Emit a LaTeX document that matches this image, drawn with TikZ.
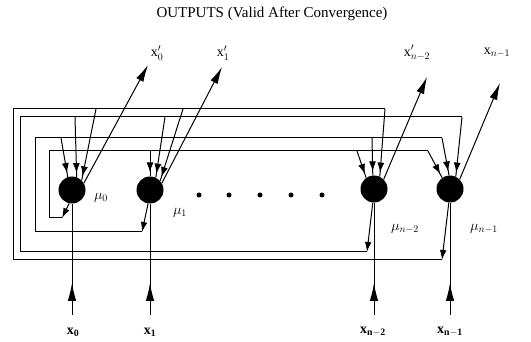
\documentclass[tikz,border=0pt]{standalone}
\usepackage{fontspec}
\setmainfont{Liberation Serif}
\usetikzlibrary{arrows.meta,decorations.markings}
\tikzset{
  neuron/.style={circle,fill=black,minimum size=27pt,inner sep=0pt},
  dotn/.style={circle,fill=black,minimum size=5pt,inner sep=0pt},
  wire/.style={line width=1pt},
  bigtip/.style={wire,-{Latex[length=17pt,width=8pt]}},
  outfb/.style={wire,-{Latex[length=10pt,width=6.5pt]}},
  feed/.style={wire,decoration={markings,mark=at position -4pt with {\arrow{Latex[length=10pt,width=7pt]}}},postaction=decorate},
  infeed/.style={wire,decoration={markings,mark=at position 32pt with {\arrow{Latex[length=18pt,width=8.5pt]}}},postaction=decorate},
  lab/.style={font=\fontsize{14}{16}\selectfont,inner sep=1pt},
  blab/.style={font=\fontsize{14}{16}\selectfont\bfseries,inner sep=1pt},
  mulab/.style={font=\fontsize{14}{16}\selectfont,inner sep=1pt},
  titl/.style={font=\fontsize{15}{17}\selectfont,inner sep=0pt}
}
\begin{document}
\begin{tikzpicture}[x=1pt,y=-1pt]
\useasboundingbox (0,0) rectangle (531,342);
% title
\node[titl] (title) at (272,14) {OUTPUTS (Valid After Convergence)};
% neurons
\node[neuron] (n0) at (72,190) {};
\node[neuron] (n1) at (150,190) {};
\node[neuron] (n2) at (374,189) {};
\node[neuron] (n3) at (450,189) {};
% dots
\foreach \i/\x in {1/199,2/229,3/260,4/291,5/322}
  \node[dotn] (d\i) at (\x,195) {};
% mu labels
\node[mulab] (m0) at (101,198) {$\mu_0$};
\node[mulab] (m1) at (180,213) {$\mu_1$};
\node[mulab] (m2) at (405,229) {$\mu_{n-2}$};
\node[mulab] (m3) at (484,229) {$\mu_{n-1}$};
% output labels
\node[lab] (xp0) at (157,53) {x$'_0$};
\node[lab] (xp1) at (223,53) {x$'_1$};
\node[lab] (xp2) at (417,53) {x$'_{n-2}$};
\node[lab] (xp3) at (497,53) {x$_{n-1}$};
\coordinate (t0) at (148,65);
\coordinate (t1) at (222,67);
\coordinate (t2) at (427,77);
\coordinate (t3) at (500,83);
\draw[bigtip] (n0.30) -- (t0);
\draw[bigtip] (n1.30) -- (t1);
\draw[bigtip] (n2.45) -- (t2);
\draw[bigtip] (n3.45) -- (t3);
% input labels and lines
\node[blab] (x0) at (73,332) {x$_{\mathbf{0}}$};
\node[blab] (x1) at (150,332) {x$_{\mathbf{1}}$};
\node[blab] (x2) at (373,332) {x$_{\mathbf{n-2}}$};
\node[blab] (x3) at (450,332) {x$_{\mathbf{n-1}}$};
\coordinate (i0) at (72,315);
\coordinate (i1) at (150,315);
\coordinate (i2) at (374,315);
\coordinate (i3) at (450,315);
\draw[infeed] (i0) -- (n0.south);
\draw[infeed] (i1) -- (n1.south);
\draw[infeed] (i2) -- (n2.south);
\draw[infeed] (i3) -- (n3.south);
% feedback outputs into loops
\coordinate (b0) at (62,218);
\coordinate (b1) at (142,232);
\coordinate (b2) at (367,252);
\coordinate (b3) at (442,260);
\draw[outfb] (n0.258) -- (b0);
\draw[outfb] (n1.262) -- (b1);
\draw[outfb] (n2.265) -- (b2);
\draw[outfb] (n3.265) -- (b3);
% loop of mu0 (innermost)
\coordinate (c0) at (428,151);
\draw[wire] (b0) -- (49,218) -- (49,151) -- (c0);
\draw[feed] (c0) -- (n3.125);
\draw[feed] (150,151) -- (n1.north);
\draw[feed] (357,151) -- (n2.125);
% loop of mu1
\coordinate (c1) at (442,138);
\draw[wire] (b1) -- (35,232) -- (35,138) -- (c1);
\draw[feed] (c1) -- (n3.94);
\draw[feed] (61,138) -- (n0.108);
\draw[feed] (372,138) -- (n2.95);
% loop of mu n-2
\coordinate (c2) at (462,117);
\draw[wire] (b2) -- (20,252) -- (20,117) -- (c2);
\draw[feed] (c2) -- (n3.65);
\draw[feed] (75,117) -- (n0.70);
\draw[feed] (165,117) -- (n1.65);
% loop of mu n-1 (outermost)
\coordinate (c3) at (385,109);
\draw[wire] (b3) -- (13,260) -- (13,109) -- (c3);
\draw[feed] (c3) -- (n2.65);
\draw[feed] (96,109) -- (n0.45);
\draw[feed] (183,109) -- (n1.42);
\end{tikzpicture}
\end{document}
